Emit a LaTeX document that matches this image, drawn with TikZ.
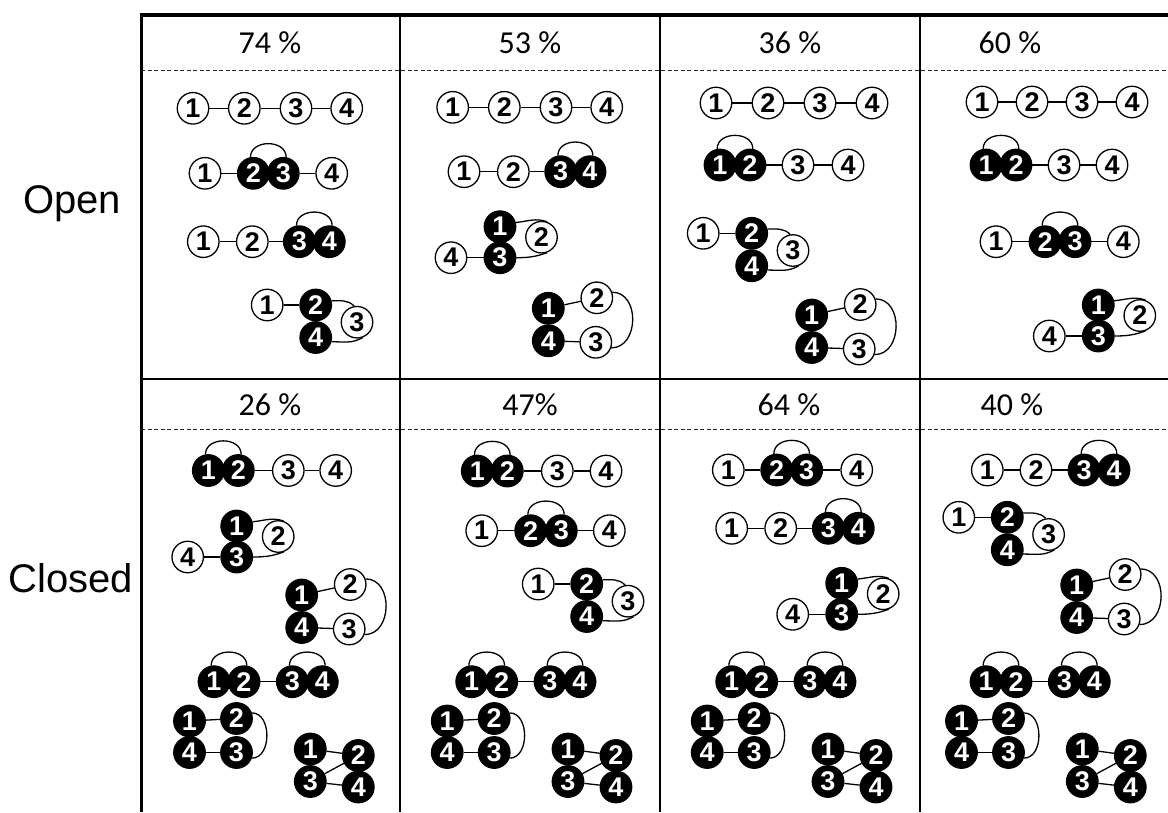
\documentclass[tikz,border=0pt]{standalone}
\usepackage{fontspec}
\setmainfont{Liberation Sans}
\newfontfamily\hdrfont{Carlito}
\newfontfamily\numfont{Liberation Sans Bold}
\newcommand\pairarc[2]{\draw[edge] (#1.100) .. controls +(0,18) and +(0,18) .. (#2.80);}
\newcommand\qchain[7]{%
  \node[p#2n1] (#1-1) at ({#3},{-#7}) {1};
  \node[p#2n2] (#1-2) at ({#4},{-#7}) {2};
  \node[p#2n3] (#1-3) at ({#5},{-#7}) {3};
  \node[p#2n4] (#1-4) at ({#6},{-#7}) {4};
  \ifnum#2=1 \pairarc{#1-1}{#1-2}\else\ifnum#2=4 \pairarc{#1-1}{#1-2}\else\draw[edge] (#1-1) -- (#1-2);\fi\fi
  \ifnum#2=2 \pairarc{#1-2}{#1-3}\else\draw[edge] (#1-2) -- (#1-3);\fi
  \ifnum#2=3 \pairarc{#1-3}{#1-4}\else\ifnum#2=4 \pairarc{#1-3}{#1-4}\else\draw[edge] (#1-3) -- (#1-4);\fi\fi
}
% 1 white - 2 black, 4 black below 2, 3 white right
\newcommand\triA[3]{%
  \node[wn] (#1-1) at ({#2-48.5},{-(#3)}) {1};
  \node[bn] (#1-2) at ({#2},{-(#3)}) {2};
  \node[bn] (#1-4) at ({#2},{-(#3+32.5)}) {4};
  \node[wn] (#1-3) at ({#2+41.3},{-(#3+17.2)}) {3};
  \draw[edge] (#1-1) -- (#1-2);
  \draw[edge] (#1-2.15) to[out=0,in=135] (#1-3.100);
  \draw[edge] (#1-4.-15) to[out=0,in=-150] (#1-3.-70);
}
% 1 black, 3 black below, 2 white right, 4 white left of 3
\newcommand\triB[3]{%
  \node[bn] (#1-1) at ({#2},{-(#3)}) {1};
  \node[bn] (#1-3) at ({#2},{-(#3+31)}) {3};
  \node[wn] (#1-2) at ({#2+41.5},{-(#3+10.5)}) {2};
  \node[wn] (#1-4) at ({#2-49},{-(#3+31)}) {4};
  \draw[edge] (#1-4) -- (#1-3);
  \draw[edge] (#1-1.15) to[out=5,in=160] (#1-2.70);
  \draw[edge] (#1-3.0) to[out=0,in=-160] (#1-2.-70);
}
% 1,4 black left, 2,3 white right, loop 2-3
\newcommand\sqO[3]{%
  \node[bn] (#1-1) at ({#2},{-(#3)}) {1};
  \node[bn] (#1-4) at ({#2},{-(#3+32.5)}) {4};
  \node[wn] (#1-2) at ({#2+48.5},{-(#3-10.5)}) {2};
  \node[wn] (#1-3) at ({#2+47.5},{-(#3+34)}) {3};
  \draw[edge] (#1-1) -- (#1-2);
  \draw[edge] (#1-4) -- (#1-3);
  \draw[edge] (#1-2.20) .. controls +(28,0) and +(28,0) .. (#1-3.-20);
}
\newcommand\sqC[3]{%
  \node[bn] (#1-1) at ({#2},{-(#3)}) {1};
  \node[bn] (#1-2) at ({#2+47},{-(#3-2.5)}) {2};
  \node[bn] (#1-4) at ({#2},{-(#3+31.5)}) {4};
  \node[bn] (#1-3) at ({#2+47},{-(#3+31.5)}) {3};
  \draw[edge] (#1-1) -- (#1-2);
  \draw[edge] (#1-4) -- (#1-3);
  \draw[edge] (#1-2.20) .. controls +(20,0) and +(20,0) .. (#1-3.-20);
}
\newcommand\bowmotif[3]{%
  \node[bn] (#1-1) at ({#2},{-(#3)}) {1};
  \node[bn] (#1-2) at ({#2+48},{-(#3+6.5)}) {2};
  \node[bn] (#1-3) at ({#2},{-(#3+32.5)}) {3};
  \node[bn] (#1-4) at ({#2+48},{-(#3+38)}) {4};
  \draw[edge] (#1-1) -- (#1-2);
  \draw[edge] (#1-3) -- (#1-2);
  \draw[edge] (#1-3) -- (#1-4);
}
\newcommand\closedtail[2]{%
  \qchain{#1r4}{4}{#2}{#2+30}{#2+78.3}{#2+108.3}{681.7}
  \sqC{#1r5}{#2-24.5}{721}
  \bowmotif{#1r6}{#2+96.3}{749}
}
\begin{document}
\begin{tikzpicture}[x=1pt,y=1pt,
  nd/.style={circle,minimum size=31.5pt,inner sep=0pt,line width=1.3pt,
    font=\numfont\fontsize{27}{27}\selectfont},
  wn/.style={nd,draw=black,fill=white,text=black},
  bn/.style={nd,draw=black,fill=black,text=white},
  edge/.style={line width=1.3pt},
  hdr/.style={anchor=base,font=\hdrfont\fontsize{32}{32}\selectfont},
  rowlab/.style={anchor=base,font=\fontsize{40}{40}\selectfont},
  sep/.style={line width=1pt,dash pattern=on 4pt off 2.5pt,draw=black!85},
  p0n1/.style=wn,p0n2/.style=wn,p0n3/.style=wn,p0n4/.style=wn,
  p1n1/.style=bn,p1n2/.style=bn,p1n3/.style=wn,p1n4/.style=wn,
  p2n1/.style=wn,p2n2/.style=bn,p2n3/.style=bn,p2n4/.style=wn,
  p3n1/.style=wn,p3n2/.style=wn,p3n3/.style=bn,p3n4/.style=bn,
  p4n1/.style=bn,p4n2/.style=bn,p4n3/.style=bn,p4n4/.style=bn]
\useasboundingbox (0,0) rectangle (1168,-812);
\fill[white] (0,0) rectangle (1168,-812);
% table frame
\draw[line width=1.6pt] (400,-15) -- (400,-812);
\draw[line width=1.6pt] (660,-15) -- (660,-812);
\draw[line width=1.6pt] (920,-15) -- (920,-812);
\draw[sep] (141,-70) -- (1168,-70);
\draw[sep] (141,-429) -- (1168,-429);
\draw[line width=2.7pt] (141,-379) -- (1168,-379);
\draw[line width=3.2pt] (139.5,-15) -- (1168,-15);
\draw[line width=3pt] (141,-13.5) -- (141,-812);
% row labels
\node[rowlab] (lopen) at (72,-213) {Open};
\node[rowlab] (lclosed) at (71,-592) {Closed};
% headers
\node[hdr] (h1) at (270,-53) {74 \%};
\node[hdr] (h2) at (530,-53) {53 \%};
\node[hdr] (h3) at (790,-53) {36 \%};
\node[hdr] (h4) at (1010,-53) {60 \%};
\node[hdr] (h5) at (270,-415) {26 \%};
\node[hdr] (h6) at (530,-415) {47\%};
\node[hdr] (h7) at (789,-415) {64 \%};
\node[hdr] (h8) at (1012,-415) {40 \%};
% Open, col 1
\qchain{a1}{0}{193}{244.3}{296}{346.7}{108.3}
\qchain{a2}{2}{205}{253.3}{283.3}{331.7}{173.3}
\qchain{a3}{3}{203.3}{252.3}{299.3}{329.3}{241.7}
\triA{a4}{315.7}{305}
% Open, col 2
\qchain{b1}{0}{452.7}{504.3}{556}{606.7}{107.3}
\qchain{b2}{3}{464}{513.3}{560.7}{590}{171.7}
\triB{b3}{500}{226.7}
\sqO{b4}{548.3}{308.3}
% Open, col 3
\qchain{c1}{0}{716}{768}{820}{872}{103}
\qchain{c2}{1}{720}{750}{798}{848}{165}
\triA{c3}{751.7}{233.3}
\sqO{c4}{811.7}{315}
% Open, col 4
\qchain{d1}{0}{982}{1032}{1082}{1132}{102}
\qchain{d2}{1}{986}{1016}{1064}{1112}{165}
\qchain{d3}{2}{996}{1045}{1075}{1123.3}{241.7}
\triB{d4}{1098.3}{305}
% Closed, col 1
\qchain{e1}{1}{208.3}{238.3}{288.3}{335.7}{470.5}
\triB{e2}{236.7}{526}
\sqO{e3}{301.7}{595}
\closedtail{e}{214}
% Closed, col 2
\qchain{f1}{1}{477.3}{507.3}{557.3}{606}{471}
\qchain{f2}{2}{481.7}{530.7}{561.3}{609.3}{530.7}
\triA{f3}{586.7}{584}
\closedtail{f}{471.7}
% Closed, col 3
\qchain{g1}{2}{728.3}{776.7}{806.7}{856.7}{470}
\qchain{g2}{3}{731.7}{780.7}{828.3}{858.3}{528.3}
\triB{g3}{841.7}{583.3}
\closedtail{g}{731.7}
% Closed, col 4
\qchain{h1}{3}{987.3}{1036}{1084}{1114}{470}
\triA{h2}{1007.3}{517.3}
\sqO{h3}{1076.7}{585}
\closedtail{h}{986}
\end{tikzpicture}
\end{document}
